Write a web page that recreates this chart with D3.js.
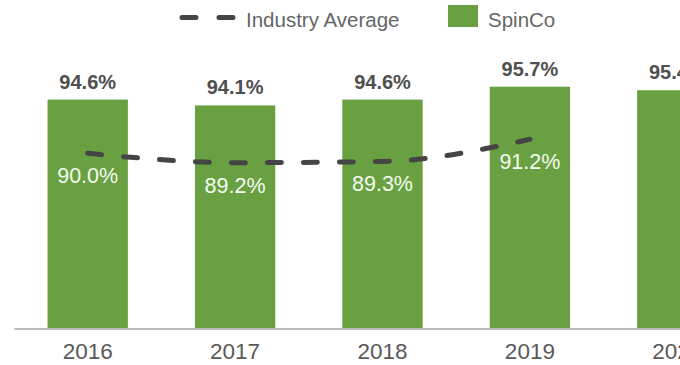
<!DOCTYPE html>
<html>
<head>
<meta charset="utf-8">
<script src="https://cdn.jsdelivr.net/npm/d3@7"></script>
<style>
  html, body { margin: 0; padding: 0; background: #ffffff; }
  svg { display: block; font-family: "Liberation Sans", Arial, sans-serif; }
</style>
</head>
<body>
<svg id="chart" width="680" height="365"></svg>
<script>
// Yearly retention rates: SpinCo bars vs. industry average line
const years = ["2016", "2017", "2018", "2019", "2020"];
const spinco = [94.6, 94.1, 94.6, 95.7, 95.4];
const industryYears = ["2016", "2017", "2018", "2019"];
const industry = [90.0, 89.2, 89.3, 91.2];
const legendLabels = ["Industry Average", "SpinCo"];

const GREEN = "#69a142";
const LINE = "#454545";

const svg = d3.select("#chart");

// Category axis runs wider than the viewport; the last year is partly clipped.
const x = d3.scaleBand()
  .domain(years)
  .range([14, 751])
  .paddingInner(0.455)
  .paddingOuter(0.2275);

const y = d3.scaleLinear()
  .domain([75, 100])
  .range([328.5, 36.5]);

const fmt = v => v.toFixed(1) + "%";

// Bars
svg.append("g")
  .selectAll("rect")
  .data(years.map((yr, i) => ({ yr, v: spinco[i] })))
  .join("rect")
  .attr("x", d => x(d.yr))
  .attr("width", x.bandwidth())
  .attr("y", d => y(d.v))
  .attr("height", d => y(75) - y(d.v))
  .attr("fill", GREEN);

// Bar value labels
svg.append("g")
  .selectAll("text")
  .data(years.map((yr, i) => ({ yr, v: spinco[i] })))
  .join("text")
  .attr("x", d => x(d.yr) + x.bandwidth() / 2)
  .attr("y", d => y(d.v) - 11)
  .attr("text-anchor", "middle")
  .attr("font-size", 20)
  .attr("font-weight", "bold")
  .attr("fill", "#4f4f4f")
  .text(d => fmt(d.v));

// X axis
const xAxis = d3.axisBottom(x).tickSize(0).tickSizeOuter(0).tickPadding(15);
const gx = svg.append("g")
  .attr("transform", `translate(0,${y(75)})`)
  .call(xAxis);
gx.select(".domain").attr("stroke", "#bcbcbc").attr("stroke-width", 2);
gx.selectAll("text")
  .attr("font-size", 22.5)
  .attr("font-family", "Liberation Sans, Arial, sans-serif")
  .attr("fill", "#595959");

// Industry average dashed line
const pts = industryYears.map((yr, i) => ({ yr, v: industry[i] }));
const line = d3.line()
  .x(d => x(d.yr) + x.bandwidth() / 2)
  .y(d => y(d.v))
  .curve(d3.curveMonotoneX);

svg.append("path")
  .datum(pts)
  .attr("d", line)
  .attr("fill", "none")
  .attr("stroke", LINE)
  .attr("stroke-width", 5)
  .attr("stroke-linecap", "round")
  .attr("stroke-dasharray", "14 22");

// Line value labels (below each point)
svg.append("g")
  .selectAll("text")
  .data(pts)
  .join("text")
  .attr("x", d => x(d.yr) + x.bandwidth() / 2)
  .attr("y", d => y(d.v) + 30)
  .attr("text-anchor", "middle")
  .attr("font-size", 21.5)
  .attr("fill", "#f4fbef")
  .text(d => fmt(d.v));

// Legend
const legend = svg.append("g").attr("fill", "#666666").attr("font-size", 20.5);
legend.append("line")
  .attr("x1", 182).attr("x2", 233).attr("y1", 17.5).attr("y2", 17.5)
  .attr("stroke", LINE).attr("stroke-width", 5)
  .attr("stroke-linecap", "round")
  .attr("stroke-dasharray", "14 23");
legend.append("text").attr("x", 246).attr("y", 27).text(legendLabels[0]);
legend.append("rect")
  .attr("x", 448).attr("y", 5).attr("width", 30).attr("height", 22)
  .attr("fill", GREEN);
legend.append("text").attr("x", 488).attr("y", 27).text(legendLabels[1]);
</script>
</body>
</html>
